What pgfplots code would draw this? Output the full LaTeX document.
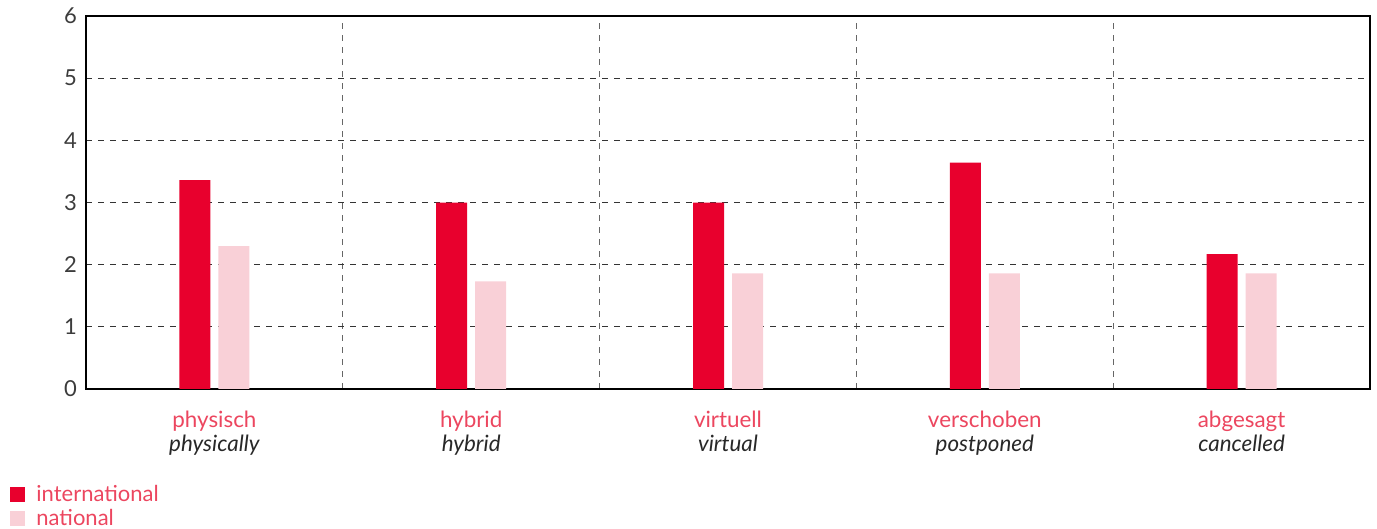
\documentclass[border=0pt]{standalone}
\usepackage{fontspec}
\setmainfont{Lato}
\usepackage{pgfplots}
\pgfplotsset{compat=1.18}
\definecolor{intl}{RGB}{232,0,45}
\definecolor{natl}{RGB}{249,208,215}
\definecolor{labred}{RGB}{236,70,95}
\definecolor{dark}{RGB}{40,40,40}
\definecolor{tickgray}{RGB}{60,60,60}
\begin{document}
\begin{tikzpicture}
\useasboundingbox (-43pt,-70pt) rectangle (645.5pt,194.5pt);
\begin{axis}[
  at={(0pt,0pt)}, anchor=south west,
  scale only axis,
  width=642pt, height=186.5pt,
  xmin=-0.5, xmax=4.5, ymin=0, ymax=6,
  ytick={0,1,2,3,4,5,6},
  xtick={0,1,2,3,4},
  xticklabels={
    {\color{labred}physisch\\\color{dark}\itshape physically},
    {\color{labred}hybrid\\\color{dark}\itshape hybrid},
    {\color{labred}virtuell\\\color{dark}\itshape virtual},
    {\color{labred}verschoben\\\color{dark}\itshape postponed},
    {\color{labred}abgesagt\\\color{dark}\itshape cancelled}},
  xticklabel style={align=center, font=\fontsize{11.2pt}{12pt}\selectfont, yshift=-7.5pt},
  yticklabel style={font=\fontsize{11pt}{12pt}\selectfont, text=tickgray, xshift=-1pt},
  /pgf/number format/assume math mode=true,
  major tick length=0pt,
  minor tick length=0pt,
  minor xtick={0.5,1.5,2.5,3.5},
  xminorgrids=true,
  ymajorgrids=true,
  minor x grid style={black!60, dashed, line width=0.6pt},
  major y grid style={black!80, dashed, line width=0.5pt},
  axis line style={black, line width=0.8pt},
  ybar, bar width=15.5pt,
  legend style={at={(-0.0592,-0.251)}, anchor=north west, draw=none, fill=none,
    font=\fontsize{11pt}{12pt}\selectfont, text=labred, row sep=0.5pt,
    inner sep=0pt, legend cell align=left,
    nodes={inner xsep=5.5pt, inner ysep=1pt}},
  legend image code/.code={\fill[#1] (0pt,-3.7pt) rectangle (7.5pt,3.8pt);},
]
\addplot[fill=intl, draw=none, bar shift=-9.75pt] coordinates {(0,3.36) (1,3.0) (2,3.0) (3,3.64) (4,2.17)};
\addplot[fill=natl, draw=none, bar shift=9.75pt] coordinates {(0,2.30) (1,1.73) (2,1.86) (3,1.86) (4,1.86)};
\legend{international, national}
\end{axis}
\end{tikzpicture}
\end{document}
